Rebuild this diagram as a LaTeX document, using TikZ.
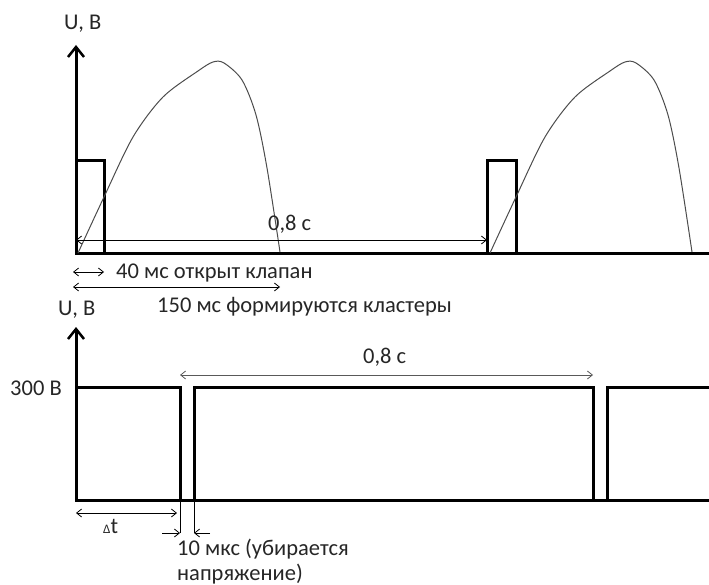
\documentclass[tikz,border=0pt]{standalone}
\usepackage{fontspec}
\setmainfont{Carlito}
\usetikzlibrary{arrows.meta}
\begin{document}
\begin{tikzpicture}[x=1pt,y=-1pt,
  axis/.style={line width=3pt,-{Straight Barb[length=10pt,width=16pt,line width=2.5pt]}},
  sig/.style={line width=3pt,line join=miter},
  curve/.style={line width=1pt,draw=black!70},
  dim/.style={line width=0.8pt,{Straight Barb[length=5pt,width=8pt]}-{Straight Barb[length=5pt,width=8pt]}},
  dimr/.style={line width=0.8pt,-{Straight Barb[length=5pt,width=8pt]}},
  lbl/.style={font=\fontsize{22.5}{26}\selectfont,text=black!85,inner sep=0pt,anchor=base west}]
\useasboundingbox (0,0) rectangle (709,585);
% ---------- top chart ----------
\coordinate (o1) at (76,254);
\coordinate (t1) at (76,45);
\coordinate (e1) at (709,254);
\draw[axis] (o1) -- (t1);
\node[lbl] (u1) at (64,30) {U, B};
\draw[sig] (e1) -- (o1) -- (76,161) -- (104,161) -- (104,254);
\draw[sig] (487,254) -- (487,161) -- (516,161) -- (516,254);
\foreach \dx in {0,412}{
  \draw[curve,xshift=\dx] plot[smooth,tension=0.5] coordinates
   {(78,253) (104,197) (133,137) (163,97) (198,71) (213,62) (224,63) (242,80) (256,115) (267,168) (280,252)};
}
\coordinate (a1) at (76,240);
\coordinate (b1) at (487,240);
\draw[dim] (a1) -- (b1);
\node[lbl] (p1) at (268,231) {0,8 с};
\coordinate (c1) at (73,272);
\coordinate (d1) at (104,272);
\draw[dim] (c1) -- (d1);
\node[lbl] (k1) at (116,279) {40 мс открыт клапан};
\coordinate (f1) at (73,287);
\coordinate (g1) at (280,287);
\draw[dim] (f1) -- (g1);
\node[lbl] (k2) at (157,312) {150 мс формируются кластеры};
% ---------- bottom chart ----------
\coordinate (o2) at (76,500);
\coordinate (t2) at (76,327);
\coordinate (e2) at (709,500);
\draw[axis] (o2) -- (t2);
\node[lbl] (u2) at (58,315) {U, B};
\node[lbl] (v2) at (10,395) {300 В};
\draw[sig] (e2) -- (o2) -- (76,387) -- (180,387) -- (180,500);
\draw[sig] (194,500) -- (194,387) -- (593,387) -- (593,500);
\draw[sig] (607,500) -- (607,387) -- (709,387);
\coordinate (a2) at (180,375);
\coordinate (b2) at (593,375);
\draw[line width=0.8pt,draw=black!65,{Straight Barb[length=5pt,width=8pt]}-{Straight Barb[length=5pt,width=8pt]}] (a2) -- (b2);
\node[lbl] (p2) at (363,363) {0,8 с};
\coordinate (c2) at (76,513);
\coordinate (d2) at (177,513);
\draw[dim] (c2) -- (d2);
\node[lbl] (dt) at (103,533) {{\fontsize{13}{14}\selectfont Δ}t};
\coordinate (m1) at (180,500);
\coordinate (m2) at (180,533);
\coordinate (n1) at (194,500);
\coordinate (n2) at (194,533);
\draw[line width=0.8pt] (m1) -- (m2);
\draw[line width=0.8pt] (n1) -- (n2);
\coordinate (q1) at (162,533);
\coordinate (q2) at (210,533);
\draw[dimr] (q1) -- (m2);
\draw[dimr] (q2) -- (n2);
\node[lbl] (k3) at (177,555) {10 мкс (убирается};
\node[lbl] (k4) at (177,580) {напряжение)};
\end{tikzpicture}
\end{document}
